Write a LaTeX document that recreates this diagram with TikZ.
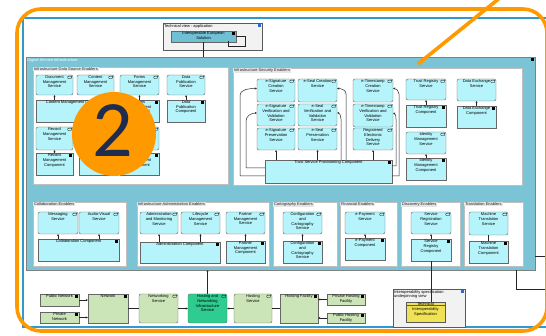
\documentclass[tikz,border=0pt]{standalone}
\usepackage{fontspec}
\setmainfont{Liberation Sans}
\newfontfamily\badgefont{Carlito}
\usetikzlibrary{arrows.meta}

\definecolor{orng}{RGB}{255,153,0}
\definecolor{frameblue}{RGB}{51,153,204}
\definecolor{dsiteal}{RGB}{122,196,214}
\definecolor{appcyan}{RGB}{181,244,250}
\definecolor{solcyan}{RGB}{112,192,212}
\definecolor{techgreen}{RGB}{204,229,184}
\definecolor{hostgreen}{RGB}{46,204,143}
\definecolor{specyellow}{RGB}{240,226,84}
\definecolor{navy}{RGB}{30,44,78}
\definecolor{iconblue}{RGB}{40,110,210}

\tikzset{
  smalltxt/.style={font=\fontsize{4}{4.8}\selectfont},
  svc/.style={draw=black!60, fill=appcyan, rounded corners=2pt, line width=0.45pt},
  cmp/.style={draw=black!60, fill=appcyan, line width=0.45pt},
  tech/.style={fill=techgreen},
  boxtext/.style={smalltxt, anchor=north, align=center, inner sep=0.6pt},
  svcicon/.style={draw=black, line width=0.35pt, rounded corners=0.8pt},
  pnl/.style={draw=black!25, fill=white, line width=0.4pt},
  pnltitle/.style={smalltxt, anchor=north west, fill=black!10, text=black!85, inner xsep=1pt, inner ysep=0.6pt},
  viewbox/.style={draw=black!65, fill=black!5, line width=0.5pt},
  viewtitle/.style={smalltxt, anchor=north west, align=left, inner sep=1.2pt},
  conn/.style={draw=black!85, line width=0.5pt},
  real/.style={conn, -{Stealth[length=1.8pt,width=2pt]}},
  flow/.style={conn, -{Stealth[length=2pt,width=2pt]}}
}

% box macros: extra style, name, x1, y1, x2, y2, text
\newcommand{\svcbox}[7]{%
  \node[svc,#1,minimum width={(#5-#3)*1pt},minimum height={(#6-#4)*1pt}] (#2) at ({(#3+#5)/2},{(#4+#6)/2}) {};
  \node[boxtext] (#2t) at (#2.north) {#7};
  \draw[svcicon] ([xshift=-5.5pt,yshift=-1.4pt]#2.north east) rectangle ++(4pt,-2.4pt);}
\newcommand{\cmpbox}[7]{%
  \node[cmp,#1,minimum width={(#5-#3)*1pt},minimum height={(#6-#4)*1pt}] (#2) at ({(#3+#5)/2},{(#4+#6)/2}) {};
  \node[boxtext] (#2t) at (#2.north) {#7};
  \fill[black] ([xshift=-4.2pt,yshift=-1.4pt]#2.north east) rectangle ++(2.6pt,-2.6pt);}
\newcommand{\panel}[6]{%
  \node[pnl,minimum width={(#4-#2)*1pt},minimum height={(#5-#3)*1pt}] (#1) at ({(#2+#4)/2},{(#3+#5)/2}) {};
  \node[pnltitle] (#1t) at (#1.north west) {#6};}

\begin{document}
\begin{tikzpicture}[x=1pt,y=-1pt]
    \useasboundingbox (0,0) rectangle (546,336);
    \draw[frameblue, line width=2.6pt] (23,18) rectangle (600,327);

    % technical view on top
    \node[viewbox, minimum width=99pt, minimum height=27pt] (techView) at (212.5,36.5) {};
    \node[viewtitle] (techViewT) at (techView.north west) {Technical view - application};
    \fill[iconblue] ([xshift=-4pt,yshift=-1.5pt]techView.north east) rectangle ++(2.5pt,-3pt);
    \cmpbox{fill=solcyan}{ieSol}{171}{31}{236}{42}{Interoperable European\\Solution}
    \draw[conn] (ieSol.east) -- ++(9,0) -- ++(0,10) -- ++(-17,0) -- ++(0,-5);

    % digital service infrastructure
    \node[draw=black!50, fill=dsiteal, line width=0.5pt, minimum width=509pt, minimum height=213pt] (dsi) at (280.5,163.5) {};
    \node[smalltxt, anchor=north west, text=white, inner sep=1.5pt] (dsiT) at (dsi.north west) {Digital Service Infrastructure};
    \fill[black] (531,58.5) rectangle (534,61.5);
    \draw[conn] (ieSol) -- (ieSol |- dsi.north);

    \panel{pDS}{33}{67}{228}{184}{Infrastructure Data Source Enablers}
    \panel{pSec}{233}{68}{522}{185}{Infrastructure Security Enablers}
    \panel{pCol}{33}{202}{126}{266}{Collaboration Enablers}
    \panel{pAdm}{137}{202}{269}{266}{Infrastructure Administration Enablers}
    \panel{pCar}{273}{202}{337}{266}{Cartography Enablers}
    \panel{pFin}{340}{202}{397}{266}{Financial Enablers}
    \panel{pDis}{401}{202}{460}{266}{Discovery Enablers}
    \panel{pTra}{464}{202}{523}{266}{Translation Enablers}

    % data source enablers
    \svcbox{}{docSvc}{36}{75}{73}{95}{Document\\Management\\Service}
    \svcbox{}{conSvc}{77}{75}{114}{95}{Content\\Management\\Service}
    \svcbox{}{frmSvc}{120}{75}{159}{95}{Forms\\Management\\Service}
    \svcbox{}{pubSvc}{167}{75}{205}{95}{Data\\Publication\\Service}
    \cmpbox{}{conCmp}{36}{100}{116}{122}{Content Management Component}
    \cmpbox{}{frmCmp}{120}{100}{159}{122}{Forms\\Management\\Component}
    \cmpbox{}{pubCmp}{167}{100}{205}{122}{Data\\Publication\\Component}
    \svcbox{}{recSvc}{36}{127}{73}{150}{Record\\Management\\Service}
    \svcbox{}{metSvc}{120}{127}{159}{150}{}
    \cmpbox{}{recCmp}{36}{153}{73}{175}{Record\\Management\\Component}
    \cmpbox{}{midCmp}{79}{153}{117}{175}{}
    \cmpbox{}{metCmp}{120}{153}{159}{175}{Metadata\\Management\\Component}
    \draw[real] (conCmp.north -| docSvc) -- (docSvc);
    \draw[real] (frmCmp) -- (frmSvc);
    \draw[real] (pubCmp) -- (pubSvc);
    \draw[real] (recCmp) -- (recSvc);

    % security enablers
    \svcbox{}{sigCre}{257}{79}{295}{102}{e-Signature\\Creation\\Service}
    \svcbox{}{selCre}{298}{79}{337}{102}{e-Seal Creation\\Service}
    \svcbox{}{sigVer}{257}{104}{295}{126}{e-Signature\\Verification and\\Validation\\Service}
    \svcbox{}{selVer}{298}{104}{337}{126}{e-Seal\\Verification and\\Validation\\Service}
    \svcbox{}{sigPre}{257}{128}{295}{150}{e-Signature\\Preservation\\Service}
    \svcbox{}{selPre}{298}{128}{337}{150}{e-Seal\\Preservation\\Service}
    \svcbox{}{tsCre}{353}{79}{393}{102}{e-Timestamp\\Creation\\Service}
    \svcbox{}{tsVer}{353}{104}{393}{127}{e-Timestamp\\Verification and\\Validation\\Service}
    \svcbox{}{redSvc}{353}{128}{393}{150}{Registered\\Electronic\\Delivery\\Service}
    \cmpbox{}{tspCmp}{265}{160}{392}{183}{Trust Service Provisioning Component}
    \draw[real] (tspCmp.north -| sigPre) -- (sigPre);
    \draw[real] (tspCmp.north -| selPre) -- (selPre);
    \draw[real] (tspCmp.north -| redSvc) -- (redSvc);
    \draw[flow] (tspCmp.west |- 0,176) -- (240,176) -- (240,96) to[out=90,in=180] ([yshift=2pt]sigCre.west);
    \draw[flow] (tspCmp.west |- 0,168) -- (246,168) -- (246,121) to[out=90,in=180] ([yshift=2pt]sigVer.west);
    \draw[flow] (tspCmp.north -| 346,0) -- (346,94) to[out=90,in=0] ([yshift=2pt]selCre.east);
    \draw[flow] (tspCmp.north -| 341,0) -- (341,119) to[out=90,in=0] ([yshift=2pt]selVer.east);
    \draw[flow] (tspCmp.east |- 0,176) -- (399,176) -- (399,94) to[out=90,in=0] ([yshift=2pt]tsCre.east);
    \draw[flow] (tspCmp.east |- 0,166) -- (396,166) -- (396,119) to[out=90,in=0] ([yshift=2pt]tsVer.east);

    \svcbox{}{trSvc}{406}{79}{446}{100}{Trust Registry\\Service}
    \cmpbox{}{trCmp}{406}{105}{446}{127}{Trust Registry\\Component}
    \svcbox{}{idSvc}{406}{132}{446}{154}{Identity\\Management\\Service}
    \cmpbox{}{idCmp}{406}{158}{446}{180}{Identity\\Management\\Component}
    \svcbox{}{dxSvc}{457}{79}{496}{101}{Data Exchange\\Service}
    \cmpbox{}{dxCmp}{457}{106}{496}{128}{Data Exchange\\Component}
    \draw[real] (trCmp) -- (trSvc);
    \draw[real] (idCmp) -- (idSvc);
    \draw[real] (dxCmp) -- (dxSvc);

    % lower row of enablers
    \svcbox{}{msgSvc}{38}{212}{78}{234}{Messaging\\Service}
    \svcbox{}{avSvc}{79}{212}{119}{234}{Audio-Visual\\Service}
    \cmpbox{}{colCmp}{38}{239}{119}{261}{Collaboration Component}
    \draw[real] (colCmp.north -| msgSvc) -- (msgSvc);
    \draw[real] (colCmp.north -| avSvc) -- (avSvc);

    \svcbox{}{admSvc}{140}{212}{178}{234}{Administration\\and Monitoring\\Service}
    \svcbox{}{lifSvc}{181}{212}{220}{234}{Lifecycle\\Management\\Service}
    \svcbox{}{parSvc}{226}{212}{265}{234}{Partner\\Management\\Service}
    \cmpbox{}{admCmp}{140}{242}{220}{263}{Administration Component}
    \cmpbox{}{parCmp}{226}{241}{265}{263}{Partner\\Management\\Component}
    \draw[real] (admCmp.north -| admSvc) -- (admSvc);
    \draw[real] (admCmp.north -| lifSvc) -- (lifSvc);
    \draw[real] (parCmp) -- (parSvc);

    \svcbox{}{carSvc}{283}{212}{322}{234}{Configuration\\and\\Cartography\\Service}
    \cmpbox{}{carCmp}{283}{241}{322}{263}{Configuration\\and\\Cartography\\Service}
    \draw[real] (carCmp) -- (carSvc);

    \svcbox{}{paySvc}{345}{212}{385}{234}{e-Payment\\Service}
    \cmpbox{}{payCmp}{345}{238}{385}{260}{e-Payment\\Component}
    \draw[real] (payCmp) -- (paySvc);

    \svcbox{}{regSvc}{411}{212}{451}{234}{Service\\Registration\\Service}
    \cmpbox{}{disCmp}{411}{239}{451}{261}{Service\\Registry\\Component}
    \draw[real] (disCmp) -- (regSvc);

    \svcbox{}{mtSvc}{469}{212}{508}{235}{Machine\\Translation\\Service}
    \cmpbox{}{mtCmp}{469}{241}{508}{263}{Machine\\Translation\\Component}
    \draw[conn] (mtCmp) -- (mtSvc);

    % technology layer
    \cmpbox{tech}{pubNet}{40}{294}{79}{306}{Public Network}
    \cmpbox{tech}{prvNet}{40}{312}{79}{323}{Private\\Network}
    \cmpbox{tech}{net}{88}{294}{128}{323}{Network}
    \svcbox{tech}{netSvc}{139}{294}{178}{323}{Networking\\Service}
    \svcbox{fill=hostgreen}{hniSvc}{188}{294}{227}{323}{Hosting and\\Networking\\Infrastructure\\Service}
    \svcbox{tech}{hosSvc}{234}{294}{272}{323}{Hosting\\Service}
    \cmpbox{tech}{hosFac}{280}{294}{318}{323}{Hosting Facility}
    \cmpbox{tech}{prvFac}{327}{294}{365}{305}{Private Hosting\\Facility}
    \cmpbox{tech}{pubFac}{327}{313}{365}{323}{Public Hosting\\Facility}
    \draw[flow] (pubNet.east) -- (net.west |- pubNet.east);
    \draw[flow] (prvNet.east) -- (net.west |- prvNet.east);
    \draw[conn] (net) -- (netSvc);
    \draw[flow] (netSvc) -- (hniSvc);
    \draw[flow] (hosSvc) -- (hniSvc);
    \draw[conn] (hosSvc) -- (hosFac);
    \draw[flow] (prvFac.west) -- (hosFac.east |- prvFac.west);
    \draw[flow] (pubFac.west) -- (hosFac.east |- pubFac.west);
    \draw[real] (hniSvc) -- (hniSvc |- dsi.south);

    % specification view
    \node[viewbox, minimum width=72pt, minimum height=38pt] (ispView) at (429,308) {};
    \node[viewtitle] (ispViewT) at (ispView.north west) {Interoperability specification\\underpinning view};
    \fill[iconblue] ([xshift=-4pt,yshift=-1.5pt]ispView.north east) rectangle ++(2.5pt,-3pt);
    \node[draw=black!65, fill=specyellow, line width=0.45pt, minimum width=39pt, minimum height=20pt] (tisSpec) at (425.5,312) {};
    \draw[black!65, line width=0.4pt] (tisSpec.west |- 0,305.5) -- (tisSpec.east |- 0,305.5);
    \node[boxtext] (tisSpecT) at (tisSpec.north) {Technical\\[0.6pt]Interoperability\\Specification};
    \draw[conn] (disCmp) -- (disCmp |- tisSpec.north);

    % lines leaving on the right
    \coordinate (rOutA) at (560,256);
    \coordinate (rOutB) at (560,289);
    \draw[conn] (dsi.east |- rOutA) -- (rOutA);
    \draw[conn] (dsi.south -| 516,0) -- (516,289) -- (rOutB);

    % orange marks
    \draw[orng, line width=3.6pt, rounded corners=24pt] (17,9) rectangle (547,331);
    \coordinate (slashTop) at (501,-3);
    \coordinate (slashEnd) at (418,64);
    \draw[orng, line width=3.6pt] (slashTop) -- (slashEnd);
    \node[circle, fill=orng, minimum size=84pt, inner sep=0pt] (badge) at (114,134) {};
    \node[font=\badgefont\fontsize{80}{80}\selectfont, text=navy, inner sep=0pt] (badgeNum) at (113,131) {2};
\end{tikzpicture}
\end{document}
